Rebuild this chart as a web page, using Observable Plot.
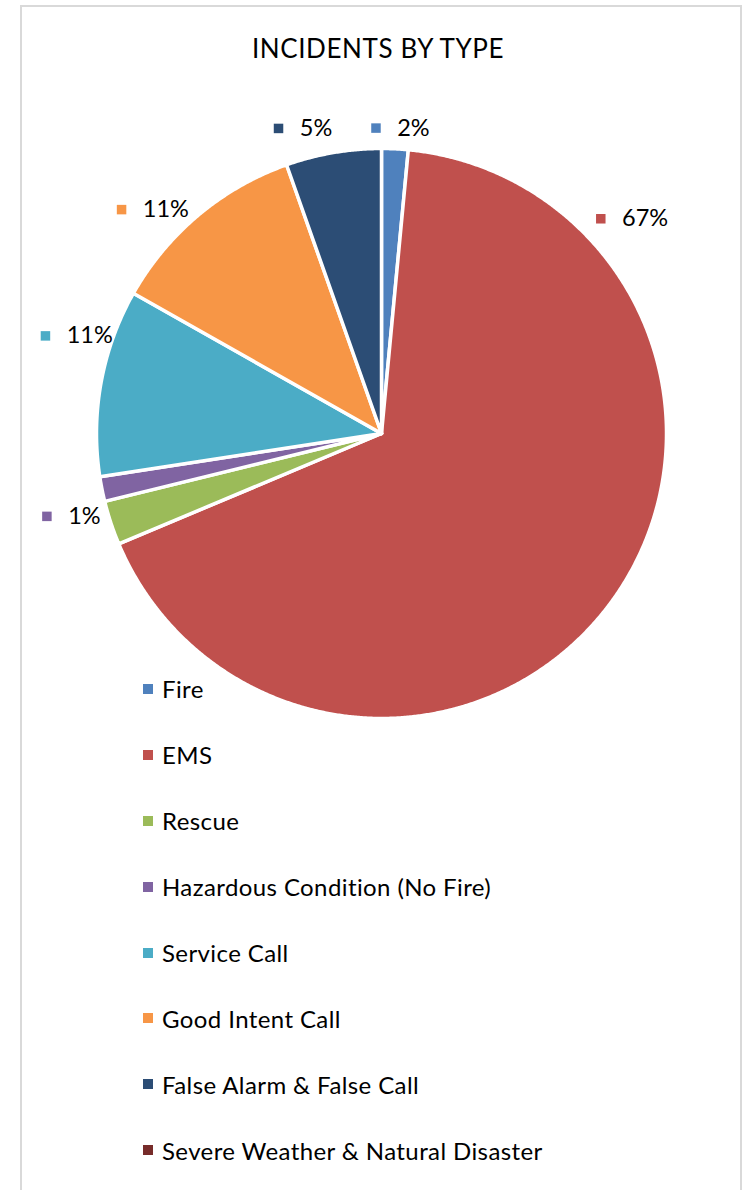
<!DOCTYPE html>
<html><head><meta charset="utf-8">
<script src="https://cdn.jsdelivr.net/npm/d3@7"></script>
<script src="https://cdn.jsdelivr.net/npm/@observablehq/plot@0.6"></script>
<style>
body{margin:0;background:#fff;font-family:Lato,"Open Sans",sans-serif;color:#000}
#wrap{position:relative;width:748px;height:1190px;overflow:hidden;background:#fff}
#frame{position:absolute;left:20px;top:5px;width:722px;height:1300px;border:2px solid #d9d9d9;box-sizing:border-box}
#title{position:absolute;left:0;width:756px;top:31px;text-align:center;font-size:26px;letter-spacing:0.6px;line-height:34px;color:#000}
#chart{position:absolute;left:0;top:0}
#legend{position:absolute;left:143px;top:656px}
.row{display:flex;align-items:center;height:65.9px;font-size:24px;letter-spacing:0.4px}
.sw{width:10px;height:10px;margin-right:9px}
</style></head>
<body><div id="wrap"><div id="frame"></div><div id="chart"></div><div id="title">INCIDENTS BY TYPE</div><div id="legend"></div></div>
<script>
// ---- data ----
const categories = ["Fire","EMS","Rescue","Hazardous Condition (No Fire)","Service Call","Good Intent Call","False Alarm & False Call","Severe Weather & Natural Disaster"];
const values = [1.5, 67.1, 2.5, 1.4, 10.6, 11.4, 5.4, 0];
const colors = ["#4F81BD","#C0504D","#9BBB59","#8064A2","#4BACC6","#F79646","#2C4D75","#772C2A"];
const showLabel = [true, true, false, true, true, true, true, false];

// ---- layout ----
const W = 748, H = 730, CX = 381, CY = 433, R = 285;
const FONT = "Lato, 'Open Sans', sans-serif", LABEL_SIZE = 23.5;
// label placement tweaks (degrees shift from mid-angle, radius in px), like Excel's best-fit
const labelShift = [0.85, -76.9, 0, -3.7, 7.4, -5.6, -4.7, 0];
const labelRadius = [306, 330, 318, 321, 320, 320, 315, 318];

const total = d3.sum(values);
let acc = 0;
const slices = categories.map((c, i) => {
  const a0 = acc / total * 2 * Math.PI; acc += values[i];
  const a1 = acc / total * 2 * Math.PI;
  return {c, i, a0, a1, v: values[i]};
});
const pts = [];
for (const s of slices) {
  if (s.v <= 0) continue;
  pts.push({c: s.c, x: 0, y: 0});
  const n = Math.max(2, Math.ceil((s.a1 - s.a0) / 0.005));
  for (let k = 0; k <= n; k++) {
    const a = s.a0 + (s.a1 - s.a0) * k / n;
    pts.push({c: s.c, x: R * Math.sin(a), y: -R * Math.cos(a)});
  }
  pts.push({c: s.c, x: 0, y: 0});
}

const ctx = document.createElement("canvas").getContext("2d");
ctx.font = `${LABEL_SIZE}px ${FONT}`;
const labels = slices.filter(s => showLabel[s.i] && s.v > 0).map(s => {
  const mid = (s.a0 + s.a1) / 2 + labelShift[s.i] * Math.PI / 180;
  const r = labelRadius[s.i];
  const gx = r * Math.sin(mid), gy = -r * Math.cos(mid);
  const text = Math.round(s.v / total * 100) + "%";
  const tw = ctx.measureText(text).width;
  const gw = 26 + tw;
  return {c: s.c, text, mx: gx - gw / 2 + 4.75, tx: gx - gw / 2 + 26, y: gy};
});

const chart = Plot.plot({
  width: W, height: H, margin: 0,
  style: {background: "transparent", overflow: "visible"},
  x: {domain: [-CX, W - CX], range: [0, W], axis: null},
  y: {domain: [-CY, H - CY], range: [0, H], axis: null},
  color: {domain: categories, range: colors},
  marks: [
    Plot.line(pts, {x: "x", y: "y", z: "c", fill: "c", stroke: "white", strokeWidth: 3.5, curve: "linear"}),
    Plot.dot(labels, {x: "mx", y: "y", fill: "c", stroke: null, symbol: "square", r: 9.5 / Math.sqrt(Math.PI)}),
    Plot.text(labels, {x: "tx", y: "y", text: "text", textAnchor: "start", fontSize: LABEL_SIZE, fontFamily: FONT, fill: "#000"})
  ]
});
document.getElementById("chart").appendChild(chart);

const leg = d3.select("#legend");
categories.forEach((c, i) => {
  const row = leg.append("div").attr("class", "row");
  row.append("div").attr("class", "sw").style("background", colors[i]);
  row.append("span").text(c);
});
</script>
</body></html>
